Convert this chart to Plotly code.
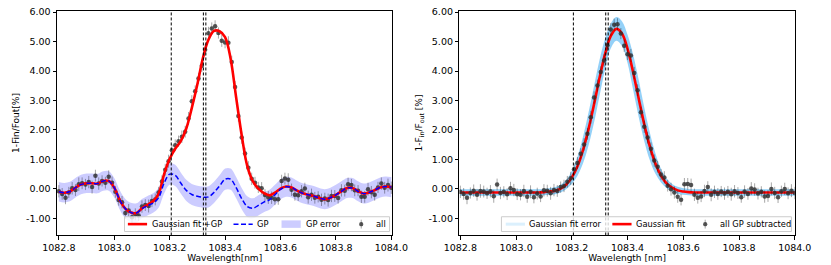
import plotly.graph_objects as go

# ---------------- data points ----------------
wl = [1082.800, 1082.812, 1082.824, 1082.836, 1082.848, 1082.860, 1082.872, 1082.884, 1082.896, 1082.908,
      1082.920, 1082.932, 1082.944, 1082.956, 1082.968, 1082.980, 1082.992, 1083.004, 1083.016, 1083.028,
      1083.040, 1083.052, 1083.064, 1083.076, 1083.088, 1083.100, 1083.112, 1083.124, 1083.136, 1083.148,
      1083.160, 1083.172, 1083.184, 1083.196, 1083.208, 1083.220, 1083.232, 1083.244, 1083.256, 1083.268,
      1083.280, 1083.292, 1083.304, 1083.316, 1083.328, 1083.340, 1083.352, 1083.364, 1083.376, 1083.388,
      1083.400, 1083.412, 1083.424, 1083.436, 1083.448, 1083.460, 1083.472, 1083.484, 1083.496, 1083.508,
      1083.520, 1083.532, 1083.544, 1083.556, 1083.568, 1083.580, 1083.592, 1083.604, 1083.616, 1083.628,
      1083.640, 1083.652, 1083.664, 1083.676, 1083.688, 1083.700, 1083.712, 1083.724, 1083.736, 1083.748,
      1083.760, 1083.772, 1083.784, 1083.796, 1083.808, 1083.820, 1083.832, 1083.844, 1083.856, 1083.868,
      1083.880, 1083.892, 1083.904, 1083.916, 1083.928, 1083.940, 1083.952, 1083.964, 1083.976, 1083.988,
      1084.000]

all_y = [-0.08, -0.17, -0.30, -0.12, 0.02, -0.04, 0.16, 0.19, 0.15, 0.23,
         0.06, 0.45, 0.18, 0.27, 0.21, 0.41, 0.21, -0.10, -0.38, -0.45,
         -0.82, -0.73, -0.96, -0.86, -0.90, -0.60, -0.55, -0.58, -0.41, -0.36,
         -0.12, 0.25, 0.65, 0.94, 1.31, 1.48, 1.62, 1.77, 1.94, 2.39,
         2.97, 3.31, 3.75, 4.18, 4.72, 5.28, 5.44, 5.52, 5.29, 5.03,
         4.97, 4.96, 4.31, 3.46, 2.47, 1.74, 1.20, 0.72, 0.34, 0.21,
         0.05, 0.02, -0.21, -0.29, -0.30, -0.35, -0.35, 0.27, 0.35, 0.31,
         -0.03, -0.20, -0.22, -0.08, 0.01, -0.28, -0.20, -0.30, -0.27, -0.37,
         -0.33, -0.38, -0.24, -0.24, -0.31, -0.05, -0.06, 0.16, 0.13, -0.05,
         -0.06, -0.27, -0.27, -0.01, -0.11, -0.20, 0.05, 0.18, 0.04, 0.13,
         0.04]

sub_y = [-0.10, -0.17, -0.30, -0.14, -0.06, -0.20, -0.07, -0.09, -0.15, -0.08,
         -0.25, 0.15, -0.14, -0.10, -0.18, 0.02, -0.04, -0.18, -0.20, -0.07,
         -0.27, -0.10, -0.28, -0.16, -0.26, -0.05, -0.06, -0.15, -0.04, -0.07,
         0.06, 0.10, 0.24, 0.36, 0.67, 0.88, 1.19, 1.51, 1.87, 2.43,
         3.10, 3.51, 3.97, 4.36, 4.87, 5.41, 5.57, 5.59, 5.27, 4.86,
         4.57, 4.53, 3.93, 3.35, 2.60, 2.11, 1.74, 1.36, 0.96, 0.75,
         0.49, 0.39, 0.11, -0.01, -0.12, -0.27, -0.37, 0.16, 0.17, 0.13,
         -0.20, -0.30, -0.26, -0.07, 0.06, -0.20, -0.10, -0.17, -0.09, -0.16,
         -0.10, -0.18, -0.08, -0.14, -0.28, -0.09, -0.17, 0.01, -0.02, -0.16,
         -0.10, -0.26, -0.24, 0.00, -0.14, -0.28, -0.08, 0.00, -0.15, -0.06,
         -0.14]

err_y = [0.21, 0.20, 0.22, 0.19, 0.21, 0.20, 0.23, 0.20, 0.19, 0.21,
         0.22, 0.20, 0.21, 0.19, 0.20, 0.22, 0.21, 0.20, 0.19, 0.21,
         0.20, 0.22, 0.21, 0.20, 0.19, 0.21, 0.20, 0.22, 0.21, 0.20,
         0.19, 0.21, 0.20, 0.22, 0.21, 0.20, 0.19, 0.21, 0.20, 0.22,
         0.21, 0.20, 0.19, 0.21, 0.20, 0.22, 0.21, 0.20, 0.19, 0.21,
         0.20, 0.22, 0.21, 0.20, 0.19, 0.21, 0.20, 0.22, 0.21, 0.20,
         0.19, 0.21, 0.20, 0.22, 0.21, 0.20, 0.19, 0.21, 0.20, 0.22,
         0.21, 0.20, 0.19, 0.21, 0.20, 0.22, 0.21, 0.20, 0.19, 0.21,
         0.20, 0.22, 0.21, 0.20, 0.19, 0.21, 0.20, 0.22, 0.21, 0.20,
         0.19, 0.21, 0.20, 0.22, 0.21, 0.20, 0.19, 0.21, 0.20, 0.22,
         0.21]

# ---------------- model curves ----------------
grid = [1082.80, 1082.82, 1082.84, 1082.86, 1082.88, 1082.90, 1082.92, 1082.94, 1082.96, 1082.98,
        1083.00, 1083.02, 1083.04, 1083.06, 1083.08, 1083.10, 1083.12, 1083.14, 1083.16, 1083.18,
        1083.20, 1083.22, 1083.24, 1083.26, 1083.28, 1083.30, 1083.32, 1083.34, 1083.36, 1083.38,
        1083.40, 1083.42, 1083.44, 1083.46, 1083.48, 1083.50, 1083.52, 1083.54, 1083.56, 1083.58,
        1083.60, 1083.62, 1083.64, 1083.66, 1083.68, 1083.70, 1083.72, 1083.74, 1083.76, 1083.78,
        1083.80, 1083.82, 1083.84, 1083.86, 1083.88, 1083.90, 1083.92, 1083.94, 1083.96, 1083.98,
        1084.00]

fit_gp = [-0.10, -0.13, -0.09, 0.04, 0.15, 0.19, 0.19, 0.18, 0.27, 0.27,
          0.04, -0.38, -0.67, -0.80, -0.82, -0.66, -0.54, -0.42, -0.17, 0.50,
          1.02, 1.36, 1.62, 2.05, 2.75, 3.55, 4.44, 5.06, 5.36, 5.35,
          5.15, 4.42, 3.10, 1.82, 0.78, 0.26, 0.01, -0.14, -0.22, -0.13,
          0.01, 0.08, 0.05, -0.06, -0.15, -0.20, -0.24, -0.31, -0.35, -0.30,
          -0.20, -0.08, 0.03, 0.03, -0.08, -0.16, -0.12, -0.04, 0.05, 0.08,
          0.06]

gp = [-0.10, -0.13, -0.09, 0.04, 0.15, 0.19, 0.19, 0.18, 0.27, 0.27,
      0.04, -0.38, -0.67, -0.80, -0.82, -0.67, -0.57, -0.48, -0.30, 0.20,
      0.50, 0.46, 0.20, -0.05, -0.19, -0.25, -0.28, -0.27, -0.12, 0.10,
      0.33, 0.33, 0.04, -0.33, -0.60, -0.66, -0.56, -0.45, -0.37, -0.20,
      -0.02, 0.07, 0.05, -0.06, -0.15, -0.20, -0.24, -0.31, -0.35, -0.30,
      -0.20, -0.08, 0.03, 0.03, -0.08, -0.16, -0.12, -0.04, 0.05, 0.08,
      0.06]

gp_err = [0.33, 0.33, 0.33, 0.33, 0.33, 0.33, 0.33, 0.33, 0.33, 0.33,
          0.33, 0.33, 0.33, 0.33, 0.33, 0.33, 0.33, 0.33, 0.34, 0.36,
          0.36, 0.36, 0.36, 0.36, 0.36, 0.36, 0.36, 0.36, 0.36, 0.36,
          0.36, 0.36, 0.36, 0.36, 0.35, 0.34, 0.34, 0.34, 0.34, 0.34,
          0.34, 0.34, 0.34, 0.34, 0.34, 0.34, 0.34, 0.34, 0.34, 0.34,
          0.34, 0.34, 0.34, 0.34, 0.34, 0.34, 0.34, 0.34, 0.34, 0.34,
          0.34]

gauss = [-0.12, -0.12, -0.12, -0.12, -0.12, -0.12, -0.12, -0.12, -0.12, -0.12,
         -0.12, -0.12, -0.12, -0.12, -0.12, -0.11, -0.09, -0.06, 0.01, 0.15,
         0.39, 0.76, 1.31, 2.03, 2.88, 3.79, 4.60, 5.19, 5.43, 5.27,
         4.75, 3.96, 3.07, 2.19, 1.44, 0.86, 0.45, 0.19, 0.04, -0.05,
         -0.09, -0.11, -0.12, -0.12, -0.12, -0.12, -0.12, -0.12, -0.12, -0.12,
         -0.12, -0.12, -0.12, -0.12, -0.12, -0.12, -0.12, -0.12, -0.12, -0.12,
         -0.12]

gauss_err = [0.11, 0.11, 0.11, 0.11, 0.11, 0.11, 0.11, 0.11, 0.11, 0.11,
             0.11, 0.11, 0.11, 0.11, 0.11, 0.11, 0.11, 0.12, 0.13, 0.16,
             0.22, 0.32, 0.45, 0.56, 0.62, 0.61, 0.52, 0.42, 0.40, 0.42,
             0.48, 0.60, 0.63, 0.57, 0.47, 0.35, 0.23, 0.16, 0.13, 0.12,
             0.11, 0.11, 0.11, 0.11, 0.11, 0.11, 0.11, 0.11, 0.11, 0.11,
             0.11, 0.11, 0.11, 0.11, 0.11, 0.11, 0.11, 0.11, 0.11, 0.11,
             0.11]

he_lines = [1083.2057, 1083.3217, 1083.3306]

xticks = [1082.8, 1083.0, 1083.2, 1083.4, 1083.6, 1083.8, 1084.0]
xtick_labels = ["1082.8", "1083.0", "1083.2", "1083.4", "1083.6", "1083.8", "1084.0"]
yticks = [-1, 0, 1, 2, 3, 4, 5, 6]
ytick_labels = ["-1.00", "0.00", "1.00", "2.00", "3.00", "4.00", "5.00", "6.00"]

left_legend = ["Gaussian fit +GP", "GP", "GP error", "all"]
right_legend = ["Gaussian fit error", "Gaussian fit", "all GP subtracted"]

FONT = "DejaVu Sans"
W, H = 831, 265
RED = "#ff0000"
BLUE = "#0000ff"
GP_FILL = "rgba(0,0,255,0.2)"
GA_FILL = "rgba(90,185,245,0.65)"
PT = "rgba(45,45,45,0.8)"
BAR = "rgba(0,0,0,0.35)"

# ---------------- figure ----------------
fig = go.Figure()

gp_up = [g + e for g, e in zip(gp, gp_err)]
gp_lo = [g - e for g, e in zip(gp, gp_err)]
ga_up = [g + e for g, e in zip(gauss, gauss_err)]
ga_lo = [g - e for g, e in zip(gauss, gauss_err)]

# Left panel
fig.add_trace(go.Scatter(x=grid, y=gp_up, mode="lines", line=dict(width=0, shape="spline"),
                         hoverinfo="skip", xaxis="x", yaxis="y"))
fig.add_trace(go.Scatter(x=grid, y=gp_lo, mode="lines", line=dict(width=0, shape="spline"),
                         fill="tonexty", fillcolor=GP_FILL, name=left_legend[2], xaxis="x", yaxis="y"))
fig.add_trace(go.Scatter(x=wl, y=all_y, mode="markers", name=left_legend[3],
                         marker=dict(size=4.5, color=PT),
                         error_y=dict(type="data", array=err_y, color=BAR, thickness=1, width=0),
                         xaxis="x", yaxis="y"))
fig.add_trace(go.Scatter(x=grid, y=fit_gp, mode="lines", name=left_legend[0],
                         line=dict(color=RED, width=2.6, shape="spline"), xaxis="x", yaxis="y"))
fig.add_trace(go.Scatter(x=grid, y=gp, mode="lines", name=left_legend[1],
                         line=dict(color=BLUE, width=1.5, dash="5px,2.5px", shape="spline"),
                         xaxis="x", yaxis="y"))

# Right panel
fig.add_trace(go.Scatter(x=grid, y=ga_up, mode="lines", line=dict(width=0, shape="spline"),
                         hoverinfo="skip", xaxis="x2", yaxis="y2"))
fig.add_trace(go.Scatter(x=grid, y=ga_lo, mode="lines", line=dict(width=0, shape="spline"),
                         fill="tonexty", fillcolor=GA_FILL, name=right_legend[0],
                         xaxis="x2", yaxis="y2"))
fig.add_trace(go.Scatter(x=grid, y=gauss, mode="lines", name=right_legend[1],
                         line=dict(color=RED, width=2.6, shape="spline"), xaxis="x2", yaxis="y2"))
fig.add_trace(go.Scatter(x=wl, y=sub_y, mode="markers", name=right_legend[2],
                         marker=dict(size=4.5, color=PT),
                         error_y=dict(type="data", array=err_y, color=BAR, thickness=1, width=0),
                         xaxis="x2", yaxis="y2"))
fig.update_traces(showlegend=False)


def px(x):
    return x / W


def py(y):
    return (H - y) / H


shapes = []
annotations = []


def legend_box(x0, x1, y0, y1):
    shapes.append(dict(type="rect", xref="paper", yref="paper",
                       x0=px(x0), x1=px(x1), y0=py(y1), y1=py(y0), layer="above",
                       fillcolor="rgba(255,255,255,0.8)", line=dict(color="#cccccc", width=1)))


def he_dashes(ax):
    for lam in he_lines:
        shapes.append(dict(type="line", xref=ax, yref=ax.replace("x", "y") + " domain",
                           x0=lam, x1=lam, y0=0, y1=1, layer="above",
                           line=dict(color="black", width=1, dash="3px,2px")))


def leg_line(x0, x1, yc, color, width, dash="solid"):
    shapes.append(dict(type="line", xref="paper", yref="paper", x0=px(x0), x1=px(x1),
                       y0=py(yc), y1=py(yc), layer="above",
                       line=dict(color=color, width=width, dash=dash)))


def leg_patch(x0, x1, y0, y1, color):
    shapes.append(dict(type="rect", xref="paper", yref="paper", x0=px(x0), x1=px(x1),
                       y0=py(y1), y1=py(y0), layer="above", fillcolor=color, line=dict(width=0)))


def leg_marker(xc, yc):
    shapes.append(dict(type="line", xref="paper", yref="paper", x0=px(xc), x1=px(xc),
                       y0=py(yc + 4.5), y1=py(yc - 4.5), layer="above",
                       line=dict(color=BAR, width=1)))
    shapes.append(dict(type="circle", xref="paper", yref="paper",
                       x0=px(xc - 2.2), x1=px(xc + 2.2), y0=py(yc + 2.2), y1=py(yc - 2.2),
                       layer="above", fillcolor=PT, line=dict(width=0)))


def leg_text(x, yc, text):
    annotations.append(dict(xref="paper", yref="paper", x=px(x - 1), y=py(yc), text=text,
                            showarrow=False, xanchor="left", yanchor="middle",
                            font=dict(family=FONT, size=8.3, color="black")))


LY = 223.5
# left legend (dashed lines drawn over it, as in the reference)
legend_box(113, 389, 216, 231)
he_dashes("x")
leg_line(116.5, 136.5, LY, RED, 2.6)
leg_text(140.5, LY, left_legend[0])
leg_line(226.5, 246.5, LY, BLUE, 1.5, "5px,2.5px")
leg_text(250, LY, left_legend[1])
leg_patch(276.5, 296.5, LY - 3.8, LY + 3.8, GP_FILL)
leg_text(301, LY, left_legend[2])
leg_marker(359.5, LY)
leg_text(374, LY, left_legend[3])

# right legend (dashed lines under it)
he_dashes("x2")
legend_box(505.5, 807.5, 216, 231)
leg_line(510, 530, LY, "rgba(135,206,250,0.3)", 3)
leg_text(532.7, LY, right_legend[0])
leg_line(621, 641, LY, RED, 2.6)
leg_text(644.3, LY, right_legend[1])
leg_marker(717.7, LY)
leg_text(731.7, LY, right_legend[2])

axis_common = dict(showline=True, mirror=True, linecolor="black", linewidth=1,
                   ticks="outside", ticklen=3.5, tickwidth=0.8, tickcolor="black",
                   showgrid=False, zeroline=False,
                   tickfont=dict(family=FONT, size=9.5, color="black"))

ydom = [0.1132, 0.9747]
fig.update_layout(
    width=W, height=H, autosize=False,
    margin=dict(l=0, r=0, t=0, b=0),
    paper_bgcolor="white", plot_bgcolor="white",
    font=dict(family=FONT, size=9, color="black"),
    showlegend=False,
    shapes=shapes,
    annotations=annotations,
    xaxis=dict(domain=[0.0514, 0.4717], range=[1082.7934, 1084.004], anchor="y",
               tickvals=xticks, ticktext=xtick_labels,
               title=dict(text="Wavelength[nm]", font=dict(family=FONT, size=9), standoff=2),
               **axis_common),
    yaxis=dict(domain=ydom, range=[-1.58, 6.05], anchor="x",
               tickvals=yticks, ticktext=ytick_labels,
               title=dict(text="1-Fin/Fout[%]", font=dict(family=FONT, size=9), standoff=4),
               **axis_common),
    xaxis2=dict(domain=[0.5556, 0.9759], range=[1082.7966, 1084.0], anchor="y2",
                tickvals=xticks, ticktext=xtick_labels,
                title=dict(text="Wavelength [nm]", font=dict(family=FONT, size=9), standoff=2),
                **axis_common),
    yaxis2=dict(domain=ydom, range=[-1.58, 6.05], anchor="x2",
                tickvals=yticks, ticktext=ytick_labels,
                title=dict(text="1-F<sub>in</sub>/F<sub>out</sub> [%]",
                           font=dict(family=FONT, size=9), standoff=4),
                **axis_common),
)

fig.write_html("out.html", config={"displayModeBar": False},
               post_script="document.body.style.margin='0';")
